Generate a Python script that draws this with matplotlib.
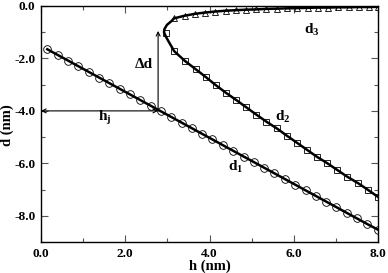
import matplotlib
matplotlib.use("Agg")
import matplotlib.pyplot as plt
from matplotlib.ticker import MultipleLocator, FormatStrFormatter

# ---- data ----
d1_h = [0.15, 0.40, 0.64, 0.89, 1.13, 1.38, 1.62, 1.87, 2.11, 2.36, 2.60, 2.85,
        3.09, 3.34, 3.58, 3.83, 4.07, 4.32, 4.56, 4.81, 5.05, 5.30, 5.54, 5.79,
        6.03, 6.28, 6.52, 6.77, 7.01, 7.26, 7.50, 7.75, 8.00]
d1_d = [-1.65, -1.87, -2.08, -2.30, -2.51, -2.73, -2.94, -3.16, -3.37, -3.59, -3.80, -4.02,
        -4.23, -4.45, -4.66, -4.88, -5.09, -5.31, -5.52, -5.74, -5.95, -6.17, -6.38, -6.60,
        -6.81, -7.03, -7.24, -7.46, -7.67, -7.89, -8.10, -8.32, -8.53]

d2_h = [2.96, 3.16, 3.42, 3.68, 3.92, 4.15, 4.39, 4.63, 4.87, 5.11, 5.35, 5.60,
        5.84, 6.08, 6.32, 6.55, 6.79, 7.03, 7.27, 7.53, 7.76, 8.00]
d2_d = [-1.03, -1.72, -2.10, -2.42, -2.72, -3.02, -3.31, -3.58, -3.86, -4.14, -4.41, -4.67,
        -4.95, -5.22, -5.49, -5.75, -5.99, -6.25, -6.51, -6.76, -7.01, -7.28]

d3_h = [3.16, 3.41, 3.65, 3.89, 4.14, 4.38, 4.62, 4.87, 5.11, 5.35, 5.60, 5.84,
        6.08, 6.33, 6.57, 6.81, 7.05, 7.30, 7.54, 7.78, 8.00]
d3_d = [-0.47, -0.37, -0.30, -0.25, -0.21, -0.18, -0.16, -0.14, -0.13, -0.11, -0.10, -0.09,
        -0.08, -0.07, -0.06, -0.06, -0.05, -0.05, -0.04, -0.04, -0.03]

# fold (nose) of the upper curve, from d3 down to d2
nose_h = [3.16, 3.10, 2.99, 2.93, 2.92, 2.96, 3.02, 3.10, 3.16]
nose_d = [-0.47, -0.57, -0.72, -0.88, -1.00, -1.15, -1.33, -1.55, -1.72]

hj_value = 2.78
hj_level = -4.0
dd_top = -0.95

xticks = [0.0, 2.0, 4.0, 6.0, 8.0]
yticks = [0.0, -2.0, -4.0, -6.0, -8.0]

# ---- figure ----
plt.rcParams['font.family'] = ['Liberation Serif', 'DejaVu Serif']
plt.rcParams['font.weight'] = 'bold'
plt.rcParams['mathtext.fontset'] = 'custom'
plt.rcParams['mathtext.rm'] = 'Liberation Serif:bold'
plt.rcParams['mathtext.bf'] = 'Liberation Serif:bold'
plt.rcParams['mathtext.it'] = 'Liberation Serif:bold'

fig = plt.figure(figsize=(3.88, 2.73), dpi=100)
ax = fig.add_axes([41/388, 1 - 242/273, (378 - 41)/388, (242 - 6)/273])

lw = 1.8
# lines
ax.plot(d1_h, d1_d, color='black', lw=lw, zorder=2)
ax.plot(d3_h[::-1] + nose_h[1:-1] + d2_h[1:], d3_d[::-1] + nose_d[1:-1] + d2_d[1:],
        color='black', lw=lw, zorder=2)
# markers
ax.plot(d1_h, d1_d, ls='none', marker='o', ms=5.5, mfc='none', mec='black', mew=0.6, zorder=3)
ax.plot(d2_h, d2_d, ls='none', marker='s', ms=4.3, mfc='none', mec='black', mew=0.6, zorder=3)
ax.plot(d3_h, d3_d, ls='none', marker='^', ms=4, mfc='none', mec='black', mew=0.6, zorder=3)

# arrows
ax.annotate('', xy=(0.0, hj_level), xytext=(hj_value, hj_level),
            arrowprops=dict(arrowstyle='<->', color='black', lw=0.8,
                            shrinkA=0, shrinkB=0, mutation_scale=7))
ax.annotate('', xy=(hj_value, dd_top), xytext=(hj_value, hj_level),
            arrowprops=dict(arrowstyle='->', color='black', lw=0.8,
                            shrinkA=0, shrinkB=0, mutation_scale=7))

# labels
tk = dict(fontsize=11, fontweight='bold', ha='center', va='center')
ax.text(2.45, -2.25, 'Δd', **tk)
ax.text(1.52, -4.27, r'h$_{\mathbf{j}}$', **tk)
ax.text(4.63, -6.13, r'd$_{\mathbf{1}}$', **tk)
ax.text(5.75, -4.23, r'd$_{\mathbf{2}}$', **tk)
ax.text(6.42, -0.91, r'd$_{\mathbf{3}}$', **tk)

ax.set_xlim(0, 8)
ax.set_ylim(-9, 0)
ax.set_xticks(xticks)
ax.set_yticks(yticks)
ax.xaxis.set_minor_locator(MultipleLocator(1.0))
ax.yaxis.set_minor_locator(MultipleLocator(1.0))
ax.xaxis.set_major_formatter(FormatStrFormatter('%.1f'))
ax.yaxis.set_major_formatter(FormatStrFormatter('%.1f'))
ax.tick_params(which='both', direction='in', top=True, right=True, color='#555555')
ax.tick_params(which='major', length=5, width=0.8, labelsize=9.5, pad=4)
ax.tick_params(which='minor', length=3, width=0.8)
for lab in ax.get_xticklabels() + ax.get_yticklabels():
    lab.set_fontweight('bold')
for s in ax.spines.values():
    s.set_linewidth(1.0)

ax.set_xlabel('h (nm)', fontsize=10.5, fontweight='bold', labelpad=0)
ax.set_ylabel('d (nm)', fontsize=10.5, fontweight='bold')
ax.yaxis.set_label_coords(-0.080, 0.496)

fig.savefig('out.png', dpi=100)
